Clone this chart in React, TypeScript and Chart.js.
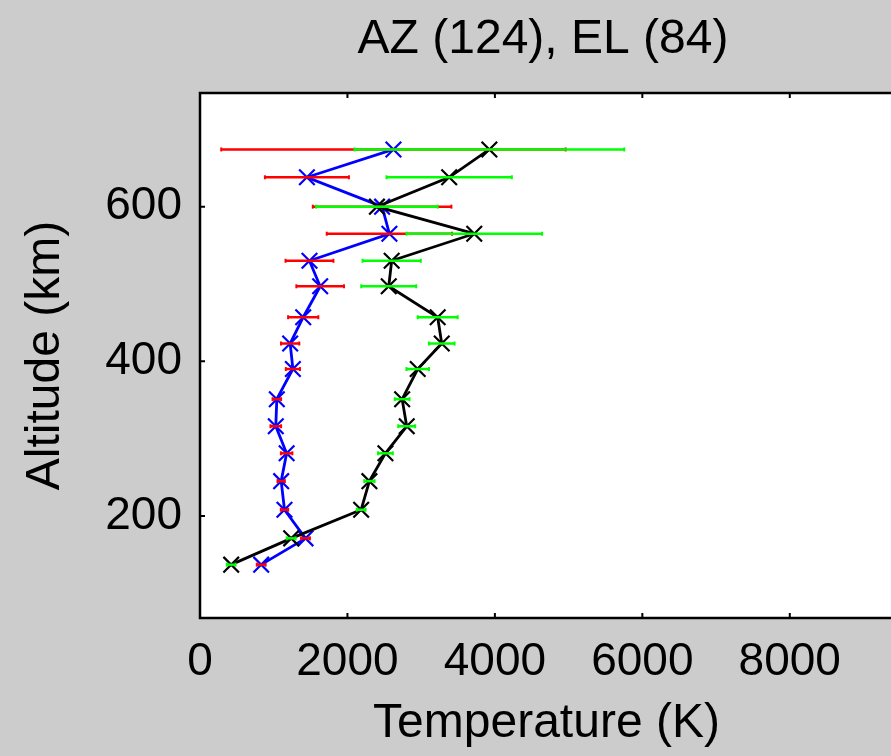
import React, { useEffect, useRef } from "react";
import { Chart, registerables } from "chart.js";

Chart.register(...registerables);

// ---- data ----
const TITLE = "AZ (124), EL (84)";
const X_LABEL = "Temperature (K)";
const Y_LABEL = "Altitude (km)";
const X_TICKS = [0, 2000, 4000, 6000, 8000];
const Y_TICKS = [200, 400, 600];

const ALTITUDE = [674, 638, 600, 565, 530, 497, 457, 423, 390, 351, 316, 281, 245, 208, 171, 137];

// blue profile with red error bars
const BLUE_TEMP = [2624, 1450, 2470, 2569, 1485, 1630, 1400, 1223, 1260, 1042, 1028, 1175, 1101, 1146, 1431, 830];
const BLUE_ERR = [2336, 570, 940, 850, 325, 323, 205, 124, 96, 58, 72, 78, 50, 50, 60, 60];

// black profile with green error bars
const BLACK_TEMP = [3925, 3380, 2400, 3720, 2600, 2560, 3224, 3279, 2953, 2742, 2804, 2515, 2298, 2186, 1237, 423];
const BLACK_ERR = [1830, 850, 825, 920, 395, 373, 271, 174, 153, 100, 115, 100, 70, 60, 60, 60];

const X_MIN = 0;
const X_MAX = 9400;
const Y_MIN = 68;
const Y_MAX = 747;

const FONT = '"Liberation Sans", Arial, Helvetica, sans-serif';

function errDatasets(temps: number[], errs: number[], color: string) {
  return temps.map((t, i) => ({
    type: "line" as const,
    data: [
      { x: t - errs[i], y: ALTITUDE[i] },
      { x: t + errs[i], y: ALTITUDE[i] },
    ],
    borderColor: color,
    backgroundColor: color,
    borderWidth: 2.5,
    pointStyle: "line" as const,
    rotation: 90,
    pointRadius: 2,
    pointBorderWidth: 2,
    showLine: true,
    fill: false,
  }));
}

const framePlugin = {
  id: "frame",
  beforeDraw(chart: any) {
    const { ctx, chartArea } = chart;
    const { left, top, right, bottom } = chartArea;
    ctx.save();
    ctx.fillStyle = "#ffffff";
    ctx.fillRect(left, top, right - left, bottom - top);
    ctx.restore();
  },
  afterDraw(chart: any) {
    const { ctx, chartArea, scales } = chart;
    const { left, top, right, bottom } = chartArea;
    ctx.save();
    ctx.strokeStyle = "#000";
    ctx.lineWidth = 2.5;
    ctx.strokeRect(left, top, right - left, bottom - top);
    ctx.beginPath();
    const tl = 5;
    for (const v of X_TICKS) {
      const px = scales.x.getPixelForValue(v);
      ctx.moveTo(px, bottom);
      ctx.lineTo(px, bottom - tl);
      ctx.moveTo(px, top);
      ctx.lineTo(px, top + tl);
    }
    for (const v of Y_TICKS) {
      const py = scales.y.getPixelForValue(v);
      ctx.moveTo(left, py);
      ctx.lineTo(left + tl, py);
    }
    ctx.lineWidth = 2;
    ctx.stroke();
    // title
    ctx.fillStyle = "#000";
    ctx.font = `48px ${FONT}`;
    ctx.textAlign = "center";
    ctx.textBaseline = "alphabetic";
    ctx.fillText(TITLE, 543, 53);
    ctx.restore();
  },
};

export default function App() {
  const ref = useRef<HTMLCanvasElement | null>(null);

  useEffect(() => {
    if (!ref.current) return;
    const chart = new Chart(ref.current, {
      type: "scatter",
      data: {
        datasets: [
          ...errDatasets(BLACK_TEMP, BLACK_ERR, "#00ff00"),
          ...errDatasets(BLUE_TEMP, BLUE_ERR, "#ff0000"),
          {
            type: "line",
            data: BLACK_TEMP.map((t, i) => ({ x: t, y: ALTITUDE[i] })),
            borderColor: "#000000",
            backgroundColor: "#000000",
            borderWidth: 2.8,
            pointStyle: "crossRot",
            pointRadius: 11,
            pointBorderWidth: 2.2,
            showLine: true,
            fill: false,
          },
          {
            type: "line",
            data: BLUE_TEMP.map((t, i) => ({ x: t, y: ALTITUDE[i] })),
            borderColor: "#0000ff",
            backgroundColor: "#0000ff",
            borderWidth: 2.8,
            pointStyle: "crossRot",
            pointRadius: 11,
            pointBorderWidth: 2.2,
            showLine: true,
            fill: false,
          },
        ] as any,
      },
      options: {
        animation: false,
        responsive: false,
        maintainAspectRatio: false,
        layout: { padding: { top: 93, right: 17, left: 0, bottom: 0 } },
        plugins: {
          legend: { display: false },
          tooltip: { enabled: false },
          title: { display: false },
        },
        scales: {
          x: {
            type: "linear",
            min: X_MIN,
            max: X_MAX,
            grid: { display: false, drawTicks: false },
            border: { display: false },
            afterBuildTicks: (scale: any) => {
              scale.ticks = X_TICKS.map((v) => ({ value: v }));
            },
            afterFit: (scale: any) => {
              scale.height = 138;
            },
            ticks: {
              color: "#000",
              padding: 21,
              maxRotation: 0,
              autoSkip: false,
              font: { family: FONT, size: 46, lineHeight: 1 },
              callback: (v: any) => String(v),
            },
            title: {
              display: true,
              text: X_LABEL,
              color: "#000",
              font: { family: FONT, size: 48, lineHeight: 1 },
              padding: { top: 0, bottom: 8 },
            },
          },
          y: {
            type: "linear",
            min: Y_MIN,
            max: Y_MAX,
            grid: { display: false, drawTicks: false },
            border: { display: false },
            afterBuildTicks: (scale: any) => {
              scale.ticks = Y_TICKS.map((v) => ({ value: v }));
            },
            afterFit: (scale: any) => {
              scale.width = 200;
            },
            ticks: {
              color: "#000",
              padding: 18,
              autoSkip: false,
              font: { family: FONT, size: 46, lineHeight: 1 },
              callback: (v: any) => String(v),
            },
            title: {
              display: true,
              text: Y_LABEL,
              color: "#000",
              font: { family: FONT, size: 48, lineHeight: 1 },
              padding: { top: 22, bottom: 0 },
            },
          },
        },
      },
      plugins: [framePlugin],
    });
    return () => chart.destroy();
  }, []);

  return (
    <div
      style={{
        position: "fixed",
        left: 0,
        top: 0,
        width: 891,
        height: 756,
        overflow: "hidden",
        background: "#cccccc",
      }}
    >
      <canvas ref={ref} width={910} height={756} style={{ display: "block" }} />
    </div>
  );
}
